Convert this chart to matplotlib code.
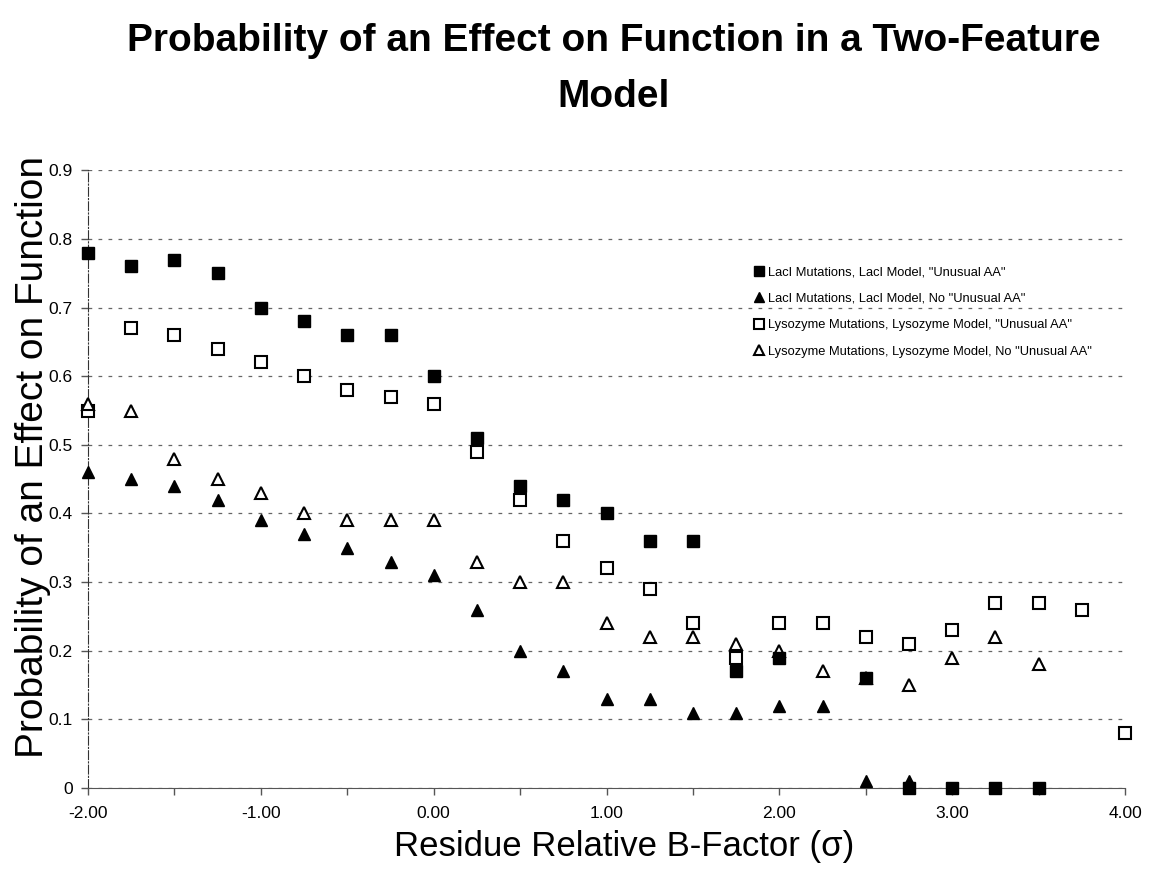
import numpy as np
import matplotlib
matplotlib.use("Agg")
import matplotlib.pyplot as plt
from matplotlib.ticker import MultipleLocator

plt.rcParams['font.family'] = ['Liberation Sans', 'DejaVu Sans']

# B-factor positions (sigma)
x_laci_aa = [-2.0, -1.75, -1.5, -1.25, -1.0, -0.75, -0.5, -0.25, 0.0, 0.25, 0.5, 0.75,
             1.0, 1.25, 1.5, 1.75, 2.0, 2.5, 2.75, 3.0, 3.25, 3.5]
y_laci_aa = [0.78, 0.76, 0.77, 0.75, 0.70, 0.68, 0.66, 0.66, 0.60, 0.51, 0.44, 0.42,
             0.40, 0.36, 0.36, 0.17, 0.19, 0.16, 0.0, 0.0, 0.0, 0.0]

x_laci_no = [-2.0, -1.75, -1.5, -1.25, -1.0, -0.75, -0.5, -0.25, 0.0, 0.25, 0.5, 0.75,
             1.0, 1.25, 1.5, 1.75, 2.0, 2.25, 2.5, 2.75]
y_laci_no = [0.46, 0.45, 0.44, 0.42, 0.39, 0.37, 0.35, 0.33, 0.31, 0.26, 0.20, 0.17,
             0.13, 0.13, 0.11, 0.11, 0.12, 0.12, 0.01, 0.01]

x_lys_aa = [-2.0, -1.75, -1.5, -1.25, -1.0, -0.75, -0.5, -0.25, 0.0, 0.25, 0.5, 0.75,
            1.0, 1.25, 1.5, 1.75, 2.0, 2.25, 2.5, 2.75, 3.0, 3.25, 3.5, 3.75, 4.0]
y_lys_aa = [0.55, 0.67, 0.66, 0.64, 0.62, 0.60, 0.58, 0.57, 0.56, 0.49, 0.42, 0.36,
            0.32, 0.29, 0.24, 0.19, 0.24, 0.24, 0.22, 0.21, 0.23, 0.27, 0.27, 0.26, 0.08]

x_lys_no = [-2.0, -1.75, -1.5, -1.25, -1.0, -0.75, -0.5, -0.25, 0.0, 0.25, 0.5, 0.75,
            1.0, 1.25, 1.5, 1.75, 2.0, 2.25, 2.5, 2.75, 3.0, 3.25, 3.5]
y_lys_no = [0.56, 0.55, 0.48, 0.45, 0.43, 0.40, 0.39, 0.39, 0.39, 0.33, 0.30, 0.30,
            0.24, 0.22, 0.22, 0.21, 0.20, 0.17, 0.16, 0.15, 0.19, 0.22, 0.18]

labels = ['LacI Mutations, LacI Model, "Unusual AA"',
          'LacI Mutations, LacI Model, No "Unusual AA"',
          'Lysozyme Mutations, Lysozyme Model, "Unusual AA"',
          'Lysozyme Mutations, Lysozyme Model, No "Unusual AA"']

fig = plt.figure(figsize=(11.51, 8.75), dpi=100)
ax = fig.add_axes([0.0765, 0.0994, 0.901, 0.706])

ms = 9
ax.plot(x_lys_aa, y_lys_aa, 's', ms=ms, mfc='white', mec='black', mew=1.5, ls='none',
        label=labels[2], zorder=3, clip_on=False)
ax.plot(x_lys_no, y_lys_no, '^', ms=ms, mfc='white', mec='black', mew=1.5, ls='none',
        label=labels[3], zorder=3, clip_on=False)
ax.plot(x_laci_aa, y_laci_aa, 's', ms=ms, color='black', ls='none',
        label=labels[0], zorder=4, clip_on=False)
ax.plot(x_laci_no, y_laci_no, '^', ms=ms, color='black', ls='none',
        label=labels[1], zorder=4, clip_on=False)

ax.set_xlim(-2, 4)
ax.set_ylim(0, 0.9)
ax.xaxis.set_minor_locator(MultipleLocator(0.5))
ax.set_xticks(np.arange(-2, 4.01, 1.0))
ax.set_xticklabels([f'{v:.2f}' for v in np.arange(-2, 4.01, 1.0)])
ax.set_yticks(np.arange(0, 0.91, 0.1))
ax.set_yticklabels(['0'] + [f'{v:.1f}' for v in np.arange(0.1, 0.91, 0.1)])
ax.tick_params(axis='both', labelsize=12.5, length=5, width=1, color='#555555')
ax.tick_params(axis='x', which='minor', length=5, width=1, color='#555555')
ax.tick_params(axis='x', pad=8)
ax.tick_params(axis='y', pad=6)

ax.grid(axis='y', linestyle=(0, (3, 5)), color='#666666', linewidth=0.9)
for s in ['top', 'right']:
    ax.spines[s].set_visible(False)
ax.spines['left'].set_color('#333333')
ax.spines['left'].set_linestyle((0, (8, 2, 1, 2)))
ax.spines['bottom'].set_color('#555555')
ax.set_axisbelow(True)

ax.set_xlabel('Residue Relative B-Factor (σ)', fontsize=25)
ax.xaxis.set_label_coords(0.517, -0.068)
ax.set_ylabel('Probability of an Effect on Function', fontsize=28)
ax.yaxis.set_label_coords(-0.036, 0.536)

fig.text(0.533, 1 - 23 / 875, 'Probability of an Effect on Function in a Two-Feature\nModel',
         ha='center', va='top', fontsize=28, fontweight='bold', linespacing=1.72)

handles, labs = ax.get_legend_handles_labels()
order = [2, 3, 0, 1]
ax.legend([handles[i] for i in order], [labs[i] for i in order],
          loc='upper left', bbox_to_anchor=(0.648, 0.706), bbox_transform=fig.transFigure,
          frameon=False, fontsize=9.3, handlelength=0.7, handletextpad=0.35,
          labelspacing=1.12, markerscale=0.85, borderpad=0.2)

fig.savefig('out.png', dpi=100)
